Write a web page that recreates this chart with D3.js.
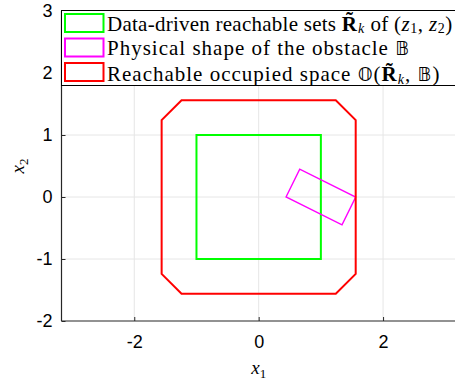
<!DOCTYPE html>
<html>
<head>
<meta charset="utf-8">
<script src="https://cdn.jsdelivr.net/npm/d3@7"></script>
<style>
  html, body { margin: 0; padding: 0; background: #fff; }
  svg { display: block; }
  .tick-label { font-family: 'Liberation Sans', Arial, sans-serif; font-size: 18px; fill: #000; }
  .legend-text { font-family: 'Liberation Serif', 'Times New Roman', serif; font-size: 21px; letter-spacing: 1px; fill: #000; }
  .axis-title { font-family: 'Liberation Serif', 'Times New Roman', serif; font-size: 19px; font-style: italic; fill: #000; }
</style>
</head>
<body>
<div id="chart"></div>
<script>
// values
const xTicks = [-2, 0, 2];
const yTicks = [-2, -1, 0, 1, 2, 3];
const xGrid = [-2, 0, 2];
const yGrid = [-1, 0, 1, 2];

// reachable set of (z1, z2)
const reachableSet = [[-1, -1], [1, -1], [1, 1], [-1, 1]];
// obstacle footprint
const obstacleShape = [[0.44, 0], [0.66, 0.45], [1.56, 0], [1.34, -0.45]];
// occupied space
const occupiedSpace = [
    [-1.24, 1.56], [1.24, 1.56], [1.56, 1.24], [1.56, -1.24],
    [1.24, -1.56], [-1.24, -1.56], [-1.56, -1.24], [-1.56, 1.24]
];

const seriesNames = ['reach', 'obstacle', 'occupied'];
const seriesColors = ['#00ff00', '#ff00ff', '#ff0000'];

const width = 455;
const height = 382;

const x = d3.scaleLinear().domain([-3.17, 3.2]).range([61.5, 457.7]);
const y = d3.scaleLinear().domain([-2, 3]).range([321, 11]);

const svg = d3.select('#chart')
    .append('svg')
    .attr('width', width)
    .attr('height', height);

// grid
const grid = svg.append('g').attr('class', 'grid');
grid.selectAll('.gx')
    .data(xGrid)
    .enter()
    .append('line')
    .attr('class', 'gx')
    .attr('x1', d => x(d)).attr('x2', d => x(d))
    .attr('y1', y(-2)).attr('y2', y(3))
    .attr('stroke', '#e6e6e6')
    .attr('stroke-width', 1);
grid.selectAll('.gy')
    .data(yGrid)
    .enter()
    .append('line')
    .attr('class', 'gy')
    .attr('x1', x.range()[0]).attr('x2', width)
    .attr('y1', d => y(d)).attr('y2', d => y(d))
    .attr('stroke', '#e6e6e6')
    .attr('stroke-width', 1);

// polygons
const line = d3.line()
    .x(d => x(d[0]))
    .y(d => y(d[1]))
    .curve(d3.curveLinearClosed);

const shapes = [
    { name: 'reach', pts: reachableSet, width: 2 },
    { name: 'obstacle', pts: obstacleShape, width: 1.4 },
    { name: 'occupied', pts: occupiedSpace, width: 2 }
];

svg.append('g')
    .selectAll('path')
    .data(shapes)
    .enter()
    .append('path')
    .attr('d', d => line(d.pts))
    .attr('fill', 'none')
    .attr('stroke', d => seriesColors[seriesNames.indexOf(d.name)])
    .attr('stroke-width', d => d.width)
    .attr('stroke-linejoin', 'miter');

// axes (MATLAB style, ticks inward)
const fmt = d => String(d);
const xAxis = svg.append('g')
    .attr('transform', 'translate(0,' + y(-2) + ')')
    .call(d3.axisBottom(x).tickValues(xTicks).tickSize(-4).tickPadding(10).tickFormat(fmt));
const yAxis = svg.append('g')
    .attr('transform', 'translate(' + x.range()[0] + ',0)')
    .call(d3.axisLeft(y).tickValues(yTicks).tickSize(-4).tickPadding(9).tickFormat(fmt));

[xAxis, yAxis].forEach(function(a) {
    a.select('.domain').attr('stroke', '#262626').attr('stroke-width', 1.2);
    a.selectAll('.tick line').attr('stroke', '#262626').attr('stroke-width', 1);
    a.selectAll('.tick text')
        .attr('class', 'tick-label')
        .attr('fill', '#000')
        .attr('font-family', null)
        .attr('font-size', null);
});
// bottom axis should start exactly at the left axis
xAxis.select('.domain').attr('d', 'M' + x.range()[0] + ',0H' + width);
yAxis.select('.domain').attr('d', 'M0,' + y(-2) + 'V' + y(3));
xAxis.selectAll('.tick text').attr('dy', '0.95em');

// axis titles
svg.append('text')
    .attr('class', 'axis-title')
    .attr('x', x(0))
    .attr('y', 374)
    .attr('text-anchor', 'middle')
    .call(t => {
        t.append('tspan').text('x');
        t.append('tspan').attr('font-size', '13px').attr('font-style', 'normal').attr('dy', 4).text('1');
    });

svg.append('text')
    .attr('class', 'axis-title')
    .attr('transform', 'translate(24,' + y(0.5) + ') rotate(-90)')
    .attr('text-anchor', 'middle')
    .call(t => {
        t.append('tspan').text('x');
        t.append('tspan').attr('font-size', '13px').attr('font-style', 'normal').attr('dy', 4).text('2');
    });

// legend
const legend = svg.append('g').attr('class', 'legend');
legend.append('rect')
    .attr('x', 61.5)
    .attr('y', 10.5)
    .attr('width', width)
    .attr('height', 75)
    .attr('fill', '#fff')
    .attr('stroke', '#000')
    .attr('stroke-width', 1);

// each label as [text, style] pieces; style: b=bold, i=italic, s=subscript, t/m=tighter spacing
const legendLabels = [
    [['Data-driven reachable sets ', 't'], ['R\u0303', 'b'], ['k', 'is'], [' of ', 't'], ['(', 'm'], ['z', 'im'], ['1', 'sm'], [', ', 'm'], ['z', 'im'], ['2', 'sm'], [')', 'm']],
    [['Physical shape of the obstacle ', ''], ['\u{1D539}', 'bb']],
    [['Reachable occupied space ', ''], ['\u{1D546}', 'bb'], ['(', ''], ['R\u0303', 'b'], ['k', 'is'], [', ', ''], ['\u{1D539}', 'bb'], [')', '']]
];
const rowTop = [14, 38.5, 63];
const rowBase = [30.5, 54.5, 81];

legendLabels.forEach(function(pieces, i) {
    legend.append('rect')
        .attr('x', 65)
        .attr('y', rowTop[i])
        .attr('width', 38.5)
        .attr('height', 18)
        .attr('fill', 'none')
        .attr('stroke', seriesColors[i])
        .attr('stroke-width', 2);

    const txt = legend.append('text')
        .attr('class', 'legend-text')
        .attr('x', 107)
        .attr('y', rowBase[i]);
    let shifted = false;
    pieces.forEach(function(p) {
        const ts = txt.append('tspan').text(p[0]);
        const style = p[1];
        if (style.includes('b') && style !== 'bb') ts.attr('font-weight', 'bold');
        if (style.includes('i')) ts.attr('font-style', 'italic');
        if (style.includes('t')) ts.attr('letter-spacing', '0.25px');
        if (style.includes('m')) ts.attr('letter-spacing', '0.45px');
        if (style === 'bb') ts.attr('font-family', "'DejaVu Sans', sans-serif").attr('font-size', '19px');
        if (style.includes('s')) {
            ts.attr('font-size', '14px').attr('dy', shifted ? 0 : 2.5);
            shifted = true;
        } else if (shifted) {
            ts.attr('dy', -2.5);
            shifted = false;
        }
    });
});
</script>
</body>
</html>
